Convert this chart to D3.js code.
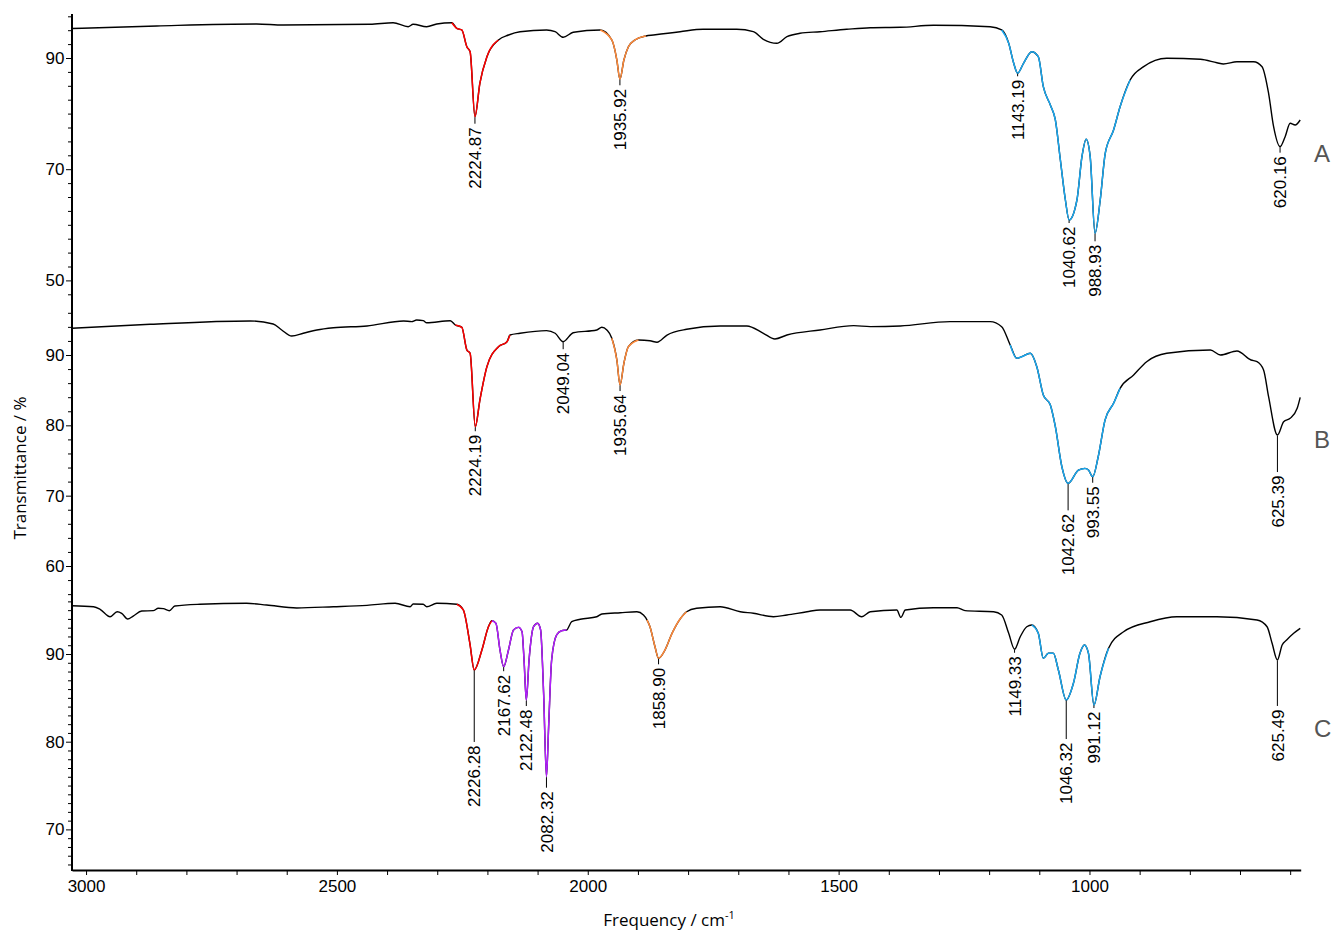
<!DOCTYPE html>
<html>
<head>
<meta charset="utf-8">
<script src="https://cdn.jsdelivr.net/npm/d3@7"></script>
<style>
  html, body { margin: 0; padding: 0; background: #fff; }
  svg { display: block; }
</style>
</head>
<body>
<svg id="chart" width="1335" height="931"></svg>
<script>
// ---------------- DATA ----------------
// Spectrum A: [wavenumber (cm-1), transmittance (%)]
const specA = [[3028,95.3],[2859,95.76],[2660,96.12],[2607,95.94],[2434,96.06],[2388,96.35],[2358,95.63],[2348,96.06],[2321,95.63],[2301,96.12],[2271,96.35],[2261,95.34],[2251,95.04],[2241,92.03],[2234.5,91.13],[2224.87,79.44],[2215,85.5],[2201,90.23],[2178,93.24],[2158,94.14],[2135,94.73],[2082,95.04],[2065,94.73],[2049,93.72],[2029,94.62],[1975,95.04],[1952,93.24],[1942,89.64],[1935.92,86.17],[1928,89.64],[1919,92.03],[1906,93.24],[1884,93.96],[1869,94.14],[1816,94.73],[1770,95.16],[1703,95.16],[1670,94.73],[1650,93.36],[1623,92.64],[1603,93.83],[1577,94.44],[1537,94.73],[1484,95.16],[1437,95.45],[1377,95.52],[1311,95.88],[1198,95.63],[1175,95.04],[1161,92.64],[1151,89.05],[1143.19,87.25],[1131.5,89.05],[1115,91.13],[1102,90.23],[1092,84.84],[1078,81.55],[1068,78.85],[1058,71.65],[1048,64.46],[1040.62,60.86],[1025,64.46],[1015,72.25],[1006.6,75.38],[998.6,72.25],[988.93,58.47],[978.6,64.46],[968.6,72.86],[952,77.05],[939,81.24],[919,86.04],[892,88.44],[846,89.95],[779,89.77],[746,89.15],[733,88.92],[706,89.33],[673,89.33],[656,88.44],[643,83.65],[633,77.64],[620.16,74.05],[610,75.85],[600,78.26],[590,77.95],[580,78.85]];

const specB = [[3028,93.80],[2872,94.37],[2673,94.84],[2627,94.41],[2610,93.56],[2590,92.70],[2567,93.09],[2540,93.56],[2507,93.88],[2440,94.13],[2367,94.84],[2351,94.74],[2341,94.98],[2328,94.88],[2321,94.59],[2274,94.88],[2264,94.27],[2251,93.94],[2241,90.71],[2234.5,90.24],[2224.19,79.80],[2215,83.60],[2201,88.34],[2178,91.18],[2161,91.89],[2155,92.84],[2135,93.09],[2082,93.46],[2065,93.09],[2049.04,91.89],[2029,93.17],[1982,93.56],[1972,93.94],[1962,93.56],[1952,92.38],[1942,89.29],[1935.64,85.73],[1928,88.82],[1919,91.18],[1899,92.13],[1876,92.03],[1862,91.81],[1842,92.84],[1803,93.66],[1736,94.13],[1683,94.13],[1650,93.09],[1627,92.28],[1603,92.84],[1537,93.56],[1470,94.17],[1437,94.03],[1377,94.13],[1278,94.74],[1198,94.74],[1175,94.03],[1158,91.42],[1145,89.53],[1135,89.76],[1118,90.24],[1105,88.34],[1092,84.31],[1078,82.89],[1068,79.80],[1055,74.11],[1042.62,71.75],[1022,73.64],[1009,73.88],[1002,73.64],[993.55,72.69],[982.6,75.53],[969,80.75],[952,83.13],[939,85.26],[912,87.16],[886,89.05],[846,90.24],[759,90.71],[739,90.00],[706,90.57],[678,89.29],[666,89.05],[653,87.87],[643,84.07],[625.39,78.62],[613,80.51],[600,81.00],[586,82.42],[580,83.98]];

const specC = [[3028,95.51],[2985,95.39],[2972,95.10],[2952,94.25],[2938,94.82],[2929,94.64],[2917,93.99],[2906,94.33],[2889,94.90],[2866,94.94],[2856,95.21],[2846,95.17],[2834,94.94],[2823,95.47],[2773,95.67],[2680,95.78],[2640,95.59],[2580,95.25],[2507,95.39],[2440,95.55],[2384,95.78],[2354,95.39],[2348,95.70],[2328,95.67],[2321,95.39],[2301,95.78],[2261,95.67],[2248,95.02],[2235,91.22],[2226.28,88.18],[2211,90.46],[2198,93.11],[2191,93.80],[2183,93.50],[2175,90.46],[2167.62,88.55],[2158,90.46],[2148,92.74],[2138,93.04],[2131,92.54],[2127,89.32],[2122.48,84.75],[2117,89.32],[2108,93.11],[2100,93.50],[2094,92.74],[2088,85.52],[2082.32,76.01],[2078,81.71],[2072,89.32],[2062,92.17],[2052,92.66],[2042,92.74],[2032,93.68],[2015,93.96],[1982,94.25],[1972,94.56],[1935,94.71],[1902,94.82],[1889,94.45],[1882,93.9],[1876,93.11],[1866,90.83],[1858.90,89.51],[1846,90.46],[1832,92.36],[1815,94.07],[1803,94.82],[1783,95.21],[1736,95.39],[1696,94.82],[1670,94.64],[1630,94.25],[1603,94.45],[1563,94.82],[1537,95.02],[1477,95.02],[1454,94.25],[1437,94.82],[1384,95.02],[1376,94.18],[1367,95.02],[1311,95.28],[1264,95.28],[1248,94.94],[1191,94.82],[1175,94.45],[1161,92.36],[1149.33,90.54],[1138,91.97],[1125,93.11],[1115,93.31],[1102,92.36],[1092,89.51],[1082,90.08],[1072,90.08],[1062,88.18],[1046.32,84.75],[1032,86.66],[1019,90.08],[1010,91.03],[1002,90.08],[991.12,84.18],[979,87.41],[962,90.65],[932,92.54],[879,93.68],[826,94.25],[746,94.25],[666,93.88],[646,93.11],[636,91.22],[625.49,89.32],[616,91.03],[607,91.60],[593,92.36],[580,92.93]];

// labelled peaks (wavenumbers)
const peaksA = [2224.87, 1935.92, 1143.19, 1040.62, 988.93, 620.16];
const peaksB = [2224.19, 2049.04, 1935.64, 1042.62, 993.55, 625.39];
const peaksC = [2226.28, 2167.62, 2122.48, 2082.32, 1858.90, 1149.33, 1046.32, 991.12, 625.49];

// highlighted band ranges [from, to] (cm-1)
const redBands    = [[2271, 2178], [2264, 2155], [2261, 2191]];
const orangeBands = [[1975, 1884], [1952, 1899], [1882, 1803]];
const blueBands   = [[1175, 919],  [1158, 939],  [1115, 962]];
const purpleBands = [null, null, [2191, 2042]];

const panelNames = ["A", "B", "C"];

// axis ticks
const xMajorTicks = [3000, 2500, 2000, 1500, 1000];
const xMinorTicks = [3000, 2900, 2800, 2700, 2600, 2500, 2400, 2300, 2200, 2100, 2000, 1900, 1800, 1700, 1600, 1500, 1400, 1300, 1200, 1100, 1000, 900, 800, 700, 600];
const yTicksA = [47.5, 50, 52.5, 55, 57.5, 60, 62.5, 65, 67.5, 70, 72.5, 75, 77.5, 80, 82.5, 85, 87.5, 90, 92.5, 95, 97.5];
const yLabelsA = [50, 70, 90];
const yTicksB = [56, 58, 60, 62, 64, 66, 68, 70, 72, 74, 76, 78, 80, 82, 84, 86, 88, 90, 92, 94, 96];
const yLabelsB = [60, 70, 80, 90];
const yTicksC = [66, 67, 68, 69, 70, 71, 72, 73, 74, 75, 76, 77, 78, 79, 80, 81, 82, 83, 84, 85, 86, 87, 88, 89, 90, 91, 92, 93, 94, 95, 96];
const yLabelsC = [70, 80, 90];

// ---------------- LAYOUT / STYLE ----------------
const bandColors = { red: "#ff0000", orange: "#ff8a3a", blue: "#1aa8f0", purple: "#b31eff" };
// leader lengths (px) for peak labels
const leadsA = [7, 6, 3, 3, 8, 6];
const leadsB = [4.5, 7.5, 6, 27, 6, 37];
const leadsC = [72, 4.5, 6, 11, 6, 3.5, 39, 3, 46];

const numFont = "'Liberation Sans', Arial, sans-serif";
const titleFont = "'Open Sans', 'Noto Sans', sans-serif";

const svg = d3.select("#chart");
svg.append("rect").attr("width", 1335).attr("height", 931).attr("fill", "#fff");

const x = d3.scaleLinear().domain([3028, 579]).range([72, 1300.7]);
const yA = d3.scaleLinear().domain([90, 50]).range([58, 280.4]);
const yB = d3.scaleLinear().domain([90, 60]).range([355, 566]);
const yC = d3.scaleLinear().domain([90, 70]).range([654, 829.4]);
const axisY = 870;
const axisX = 72;

const panels = [
  { spec: specA, y: yA, peaks: peaksA, leads: leadsA, ticks: yTicksA, labels: yLabelsA, letterY: 161.7 },
  { spec: specB, y: yB, peaks: peaksB, leads: leadsB, ticks: yTicksB, labels: yLabelsB, letterY: 448.3 },
  { spec: specC, y: yC, peaks: peaksC, leads: leadsC, ticks: yTicksC, labels: yLabelsC, letterY: 736.7 }
];

// ---- y axes (three scales sharing one axis line) ----
panels.forEach(p => {
  const g = svg.append("g").attr("transform", `translate(${axisX},0)`);
  const ax = d3.axisLeft(p.y).tickValues(p.ticks).tickSize(4)
    .tickFormat(d => p.labels.includes(d) ? d : "");
  g.call(ax);
  g.select(".domain").remove();
  g.selectAll(".tick line").attr("stroke", "#000").attr("stroke-width", 1)
    .attr("x2", d => p.labels.includes(d) ? -6 : -4);
  g.selectAll(".tick text").attr("x", -7.5)
    .attr("font-family", numFont).attr("font-size", 17).attr("fill", "#000");
});
svg.append("line").attr("x1", axisX).attr("x2", axisX).attr("y1", 14).attr("y2", axisY + 1)
  .attr("stroke", "#000").attr("stroke-width", 2);

// ---- x axis ----
const gx = svg.append("g").attr("transform", `translate(0,${axisY})`);
gx.call(d3.axisBottom(x).tickValues(xMinorTicks).tickSize(5).tickSizeOuter(0)
  .tickFormat(d => xMajorTicks.includes(d) ? d : ""));
gx.select(".domain").attr("stroke", "#000").attr("stroke-width", 2);
gx.selectAll(".tick line").attr("stroke", "#000").attr("stroke-width", 1);
gx.selectAll(".tick text").attr("y", 10).attr("dy", "0.71em")
  .attr("font-family", numFont).attr("font-size", 17).attr("fill", "#000");

// ---- spectra ----
panels.forEach((p, i) => {
  const line = d3.line().x(d => x(d[0])).y(d => p.y(d[1])).curve(d3.curveMonotoneX);
  svg.append("path").datum(p.spec).attr("d", line)
    .attr("fill", "none").attr("stroke", "#000").attr("stroke-width", 1.4)
    .attr("stroke-linejoin", "round");
  const bands = [["red", redBands[i]], ["purple", purpleBands[i]], ["orange", orangeBands[i]], ["blue", blueBands[i]]];
  bands.forEach(([c, r]) => {
    if (!r) return;
    const hi = Math.max(r[0], r[1]), lo = Math.min(r[0], r[1]);
    // segment drawn using the full curve's geometry: pick indices inclusive
    const seg = p.spec.filter(d => d[0] <= hi && d[0] >= lo);
    svg.append("path").datum(seg).attr("d", line)
      .attr("fill", "none").attr("stroke", bandColors[c]).attr("stroke-width", 1.5)
      .attr("stroke-linejoin", "round");
  });

  // peak labels
  p.peaks.forEach((w, k) => {
    const pt = p.spec.find(d => Math.abs(d[0] - w) < 1e-6);
    const px = x(w), py = p.y(pt[1]);
    const lead = p.leads[k];
    svg.append("line").attr("x1", px).attr("x2", px).attr("y1", py + 0.5).attr("y2", py + lead)
      .attr("stroke", "#000").attr("stroke-width", 1);
    svg.append("text")
      .attr("transform", `translate(${px},${py + lead + 3.5}) rotate(-90)`)
      .attr("text-anchor", "end").attr("dy", "0.36em")
      .attr("font-family", numFont).attr("font-size", 17).attr("fill", "#000")
      .text(w.toFixed(2));
  });

  svg.append("text").attr("x", 1314).attr("y", p.letterY)
    .attr("font-family", numFont).attr("font-size", 24).attr("fill", "#555")
    .text(panelNames[i]);
});

// ---- axis titles ----
const xt = svg.append("text").attr("x", 669).attr("y", 926).attr("text-anchor", "middle")
  .attr("font-family", titleFont).attr("font-size", 17).attr("fill", "#000");
xt.append("tspan").text("Frequency / cm");
xt.append("tspan").attr("font-size", 11).attr("dy", -7).text("-1");

svg.append("text").attr("transform", "translate(26,468) rotate(-90)")
  .attr("text-anchor", "middle")
  .attr("font-family", titleFont).attr("font-size", 17).attr("fill", "#000")
  .text("Transmittance / %");
</script>
</body>
</html>
